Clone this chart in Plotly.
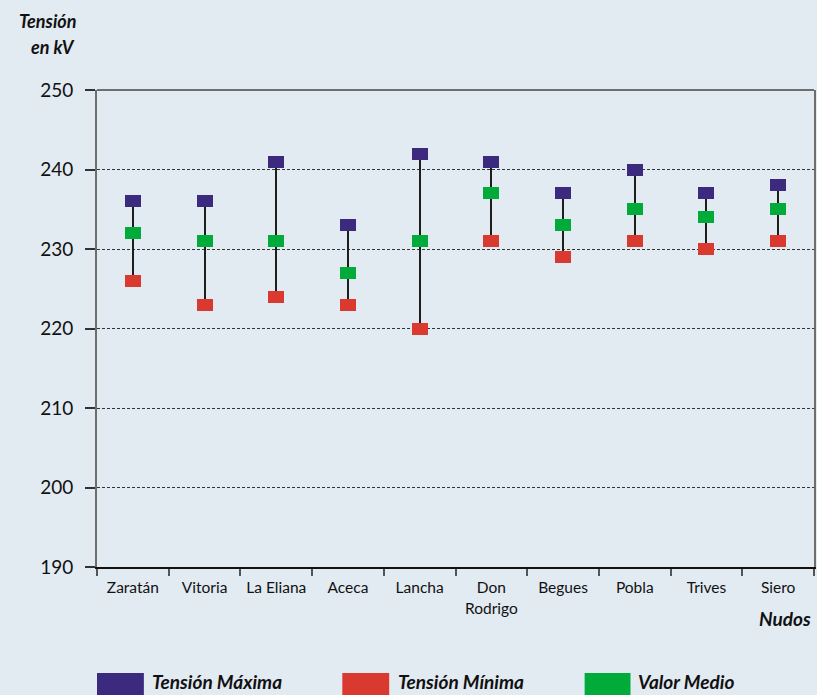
import plotly.graph_objects as go

# Voltage range per node (kV)
nudos = ["Zaratán", "Vitoria", "La Eliana", "Aceca", "Lancha",
         "Don<br>Rodrigo", "Begues", "Pobla", "Trives", "Siero"]
tension_maxima = [236, 236, 241, 233, 242, 241, 237, 240, 237, 238]
tension_minima = [226, 223, 224, 223, 220, 231, 229, 231, 230, 231]
valor_medio = [232, 231, 231, 227, 231, 237, 233, 235, 234, 235]

y_ticks = [190, 200, 210, 220, 230, 240, 250]

series = [
    ("Tensión Máxima", tension_maxima, "#3c2a7e"),
    ("Tensión Mínima", tension_minima, "#d9392f"),
    ("Valor Medio", valor_medio, "#00ab3a"),
]

W, H = 817, 695
ML, MR, MT, MB = 97, 1, 90, 128
PW, PH = W - ML - MR, H - MT - MB

FONT = "Lato, 'Open Sans', sans-serif"
BG = "#e2eaf2"

# marker block size (in axis units: category width / kV)
BLOCK_W = 16 / (PW / len(nudos))
BLOCK_H = 12 / (PH / (y_ticks[-1] - y_ticks[0]))
STEM_W = 2 / (PW / len(nudos))


def px_x(px):
    return (px - ML) / PW


def px_y(py):
    return (H - MB - py) / PH


fig = go.Figure()

# vertical range stems from minimum to maximum
fig.add_trace(go.Bar(
    x=nudos,
    base=tension_minima,
    y=[hi - lo for hi, lo in zip(tension_maxima, tension_minima)],
    width=STEM_W,
    marker=dict(color="#1e1e1e", line=dict(width=0)),
    showlegend=False,
    hoverinfo="skip",
))

# rectangular markers for each series
for name, vals, color in series:
    fig.add_trace(go.Bar(
        x=nudos,
        base=[v - BLOCK_H / 2 for v in vals],
        y=[BLOCK_H] * len(vals),
        width=BLOCK_W,
        name=name,
        marker=dict(color=color, line=dict(width=0)),
        showlegend=False,
        customdata=vals,
        hovertemplate="%{x}: %{customdata} kV<extra>" + name + "</extra>",
    ))

shapes = [
    # top frame line
    dict(type="line", xref="paper", yref="paper", x0=0, x1=1, y0=1, y1=1,
         line=dict(color="#6e6e6e", width=2)),
]
annotations = [
    dict(text="<b><i>Tensión</i></b>", xref="paper", yref="paper",
         x=px_x(78), y=px_y(8), xanchor="right", yanchor="top",
         showarrow=False, font=dict(family=FONT, size=18, color="#111")),
    dict(text="<b><i>en kV</i></b>", xref="paper", yref="paper",
         x=px_x(77), y=px_y(34), xanchor="right", yanchor="top",
         showarrow=False, font=dict(family=FONT, size=18, color="#111")),
    dict(text="<b><i>Nudos</i></b>", xref="paper", yref="paper",
         x=px_x(815), y=px_y(605), xanchor="right", yanchor="top",
         showarrow=False, font=dict(family=FONT, size=19, color="#111")),
]

# legend: swatch + label
legend_pos = [(97, 144, 150), (343, 390, 397), (586, 632, 638)]
for (name, _, color), (sx0, sx1, tx) in zip(series, legend_pos):
    shapes.append(dict(type="rect", xref="paper", yref="paper",
                       x0=px_x(sx0), x1=px_x(sx1), y0=px_y(673), y1=px_y(700),
                       fillcolor=color, line=dict(width=0)))
    annotations.append(dict(text=f"<b><i>{name}</i></b>", xref="paper", yref="paper",
                            x=px_x(tx), y=px_y(681), xanchor="left", yanchor="middle",
                            showarrow=False,
                            font=dict(family=FONT, size=19, color="#111")))

fig.update_layout(
    width=W, height=H,
    margin=dict(l=ML, r=MR, t=MT, b=MB),
    paper_bgcolor=BG, plot_bgcolor=BG,
    barmode="overlay",
    bargap=0,
    shapes=shapes,
    annotations=annotations,
    xaxis=dict(
        type="category", range=[-0.5, len(nudos) - 0.5],
        showline=True, linecolor="#111", linewidth=1.5,
        ticks="outside", tickson="boundaries", ticklen=7,
        tickcolor="#555", tickwidth=1.5,
        showgrid=False, ticklabelstandoff=6,
        tickfont=dict(family=FONT, size=15.5, color="#111"),
    ),
    yaxis=dict(
        range=[y_ticks[0], y_ticks[-1]], tickvals=y_ticks,
        showline=True, linecolor="#6e6e6e", linewidth=2, mirror=True,
        ticks="outside", ticklen=10, tickcolor="#333", tickwidth=1.5,
        showgrid=True, gridcolor="#333", gridwidth=1, griddash="3px,2px",
        zeroline=False, ticklabelstandoff=8,
        tickfont=dict(family=FONT, size=19, color="#111"),
    ),
    font=dict(family=FONT),
)

fig.write_html("out.html")
